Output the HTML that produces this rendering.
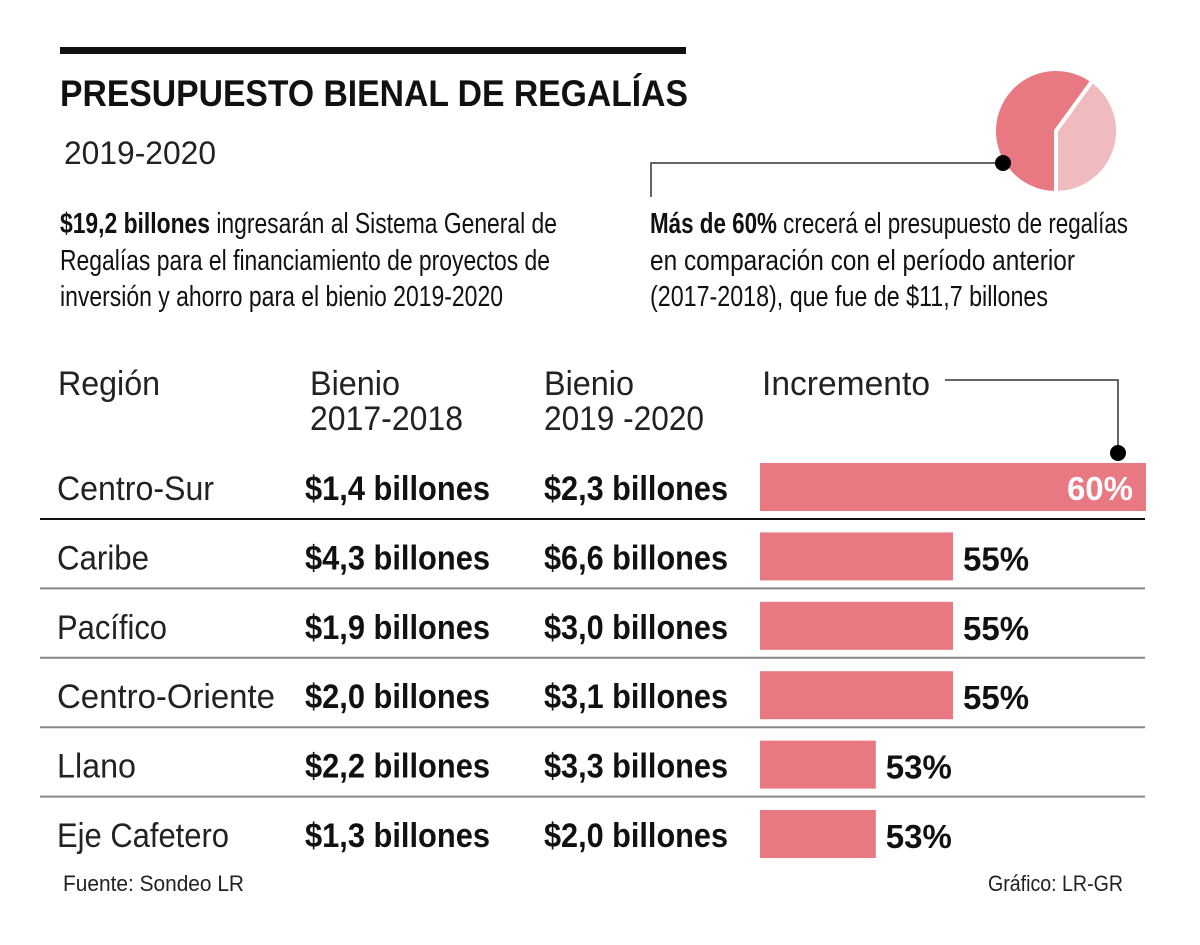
<!DOCTYPE html>
<html><head><meta charset="utf-8"><style>
html,body{margin:0;padding:0;background:#fff;}
svg{display:block;font-family:"Liberation Sans Narrow","Liberation Sans",sans-serif;}
</style></head><body>
<svg id="chart" width="1200" height="945" viewBox="0 0 1200 945">
<rect x="60" y="47" width="626" height="7" fill="#111"/>
<text x="60" y="106" font-size="37" font-weight="bold" fill="#111" textLength="628" lengthAdjust="spacingAndGlyphs">PRESUPUESTO BIENAL DE REGALÍAS</text>
<text x="64" y="164" font-size="32" fill="#222" textLength="152" lengthAdjust="spacingAndGlyphs">2019-2020</text>
<g font-size="29" fill="#111">
<text x="60" y="233" textLength="497" lengthAdjust="spacingAndGlyphs"><tspan font-weight="bold">$19,2 billones</tspan> ingresarán al Sistema General de</text>
<text x="60" y="270" textLength="490" lengthAdjust="spacingAndGlyphs">Regalías para el financiamiento de proyectos  de</text>
<text x="60" y="306" textLength="443" lengthAdjust="spacingAndGlyphs">inversión y ahorro para el bienio 2019-2020</text>
</g>
<g font-size="29" fill="#111">
<text x="650" y="233" textLength="478" lengthAdjust="spacingAndGlyphs"><tspan font-weight="bold">Más de 60%</tspan> crecerá el presupuesto de regalías</text>
<text x="650" y="270" textLength="425" lengthAdjust="spacingAndGlyphs">en comparación con el período anterior</text>
<text x="650" y="306" textLength="398" lengthAdjust="spacingAndGlyphs">(2017-2018), que fue de $11,7 billones</text>
</g>
<g id="pie"></g>
<polyline points="651,197 651,163 1003,163" fill="none" stroke="#333" stroke-width="1.5"/>
<circle cx="1003" cy="163" r="8" fill="#000"/>
<g font-size="34" fill="#222">
<text x="58" y="395" textLength="102" lengthAdjust="spacingAndGlyphs">Región</text>
<text x="310" y="395" textLength="90" lengthAdjust="spacingAndGlyphs">Bienio</text>
<text x="310" y="430" textLength="153" lengthAdjust="spacingAndGlyphs">2017-2018</text>
<text x="544" y="395" textLength="90" lengthAdjust="spacingAndGlyphs">Bienio</text>
<text x="544" y="430" textLength="160" lengthAdjust="spacingAndGlyphs">2019 -2020</text>
<text x="762" y="395" textLength="168" lengthAdjust="spacingAndGlyphs">Incremento</text>
</g>
<polyline points="945,380 1118,380 1118,453" fill="none" stroke="#333" stroke-width="1.5"/>
<circle cx="1118" cy="453" r="8" fill="#000"/>
<g id="rows"></g>
<text x="63" y="891" font-size="22" fill="#222" textLength="181" lengthAdjust="spacingAndGlyphs">Fuente: Sondeo LR</text>
<text x="988" y="891" font-size="22" fill="#222" textLength="135" lengthAdjust="spacingAndGlyphs">Gráfico: LR-GR</text>
</svg>
<script>
const regions = ["Centro-Sur","Caribe","Pacífico","Centro-Oriente","Llano","Eje Cafetero"];
const bienio1718 = [1.4,4.3,1.9,2.0,2.2,1.3];
const bienio1920 = [2.3,6.6,3.0,3.1,3.3,2.0];
const increments = [60,55,55,55,53,53];
const pieValues = [60,40];
const regionWidths = [157,92,110,218,79,172];

const NS="http://www.w3.org/2000/svg";
function mk(tag,attrs,parent){const e=document.createElementNS(NS,tag);for(const k in attrs)e.setAttribute(k,attrs[k]);parent.appendChild(e);return e;}
const x0=760, scaleK=38.6, base=50;
function xw(v){return scaleK*(v-base);}
function fmt(v){return "$"+v.toFixed(1).replace(".",",")+" billones";}
const rowsG=document.getElementById("rows");
const rowPitch=69.4;
regions.forEach((r,i)=>{
  const top=463+i*rowPitch;
  const base_y=top+37;
  const t1=mk("text",{x:57,y:base_y,"font-size":34,fill:"#222",textLength:regionWidths[i],lengthAdjust:"spacingAndGlyphs"},rowsG);
  t1.textContent=r;
  
  
  const t2=mk("text",{x:305,y:base_y,"font-size":34,fill:"#111","font-weight":"bold",textLength:185,lengthAdjust:"spacingAndGlyphs"},rowsG);
  t2.textContent=fmt(bienio1718[i]);
  
  
  const t3=mk("text",{x:544,y:base_y,"font-size":34,fill:"#111","font-weight":"bold",textLength:184,lengthAdjust:"spacingAndGlyphs"},rowsG);
  t3.textContent=fmt(bienio1920[i]);
  
  
  const w=xw(increments[i]);
  const b=mk("rect",{x:x0,y:top,width:w,height:48,fill:"#e87882"},rowsG);
  
  
  let lbl;
  if(i===0){
    lbl=mk("text",{x:x0+w-13,y:top+37,"font-size":33,"font-weight":"bold",fill:"#fff","text-anchor":"end"},rowsG);
  } else {
    lbl=mk("text",{x:x0+w+10,y:top+38,"font-size":33,"font-weight":"bold",fill:"#111"},rowsG);
  }
  lbl.textContent=increments[i]+"%";
  
  
  if(i<regions.length-1){
    const ly=top+56;
    const ln=mk("line",{x1:40,x2:1145,y1:ly,y2:ly,stroke:i===0?"#111":"#888","stroke-width":2},rowsG);
    
    
  }
});
const pieG=document.getElementById("pie");
const cx=1056, cy=131, R=62;
const total=pieValues.reduce((a,b)=>a+b,0);
const colors=["#e87882","#f0bbbf"];
let startAng=180;
pieValues.forEach((v,i)=>{
  const sweep=v/total*360;
  const a0=startAng, a1=startAng+sweep;
  const p=a=>[cx+R*Math.sin(a*Math.PI/180), cy-R*Math.cos(a*Math.PI/180)];
  const [x1,y1]=p(a0),[x2,y2]=p(a1);
  const d=`M${cx},${cy} L${x1},${y1} A${R},${R} 0 ${sweep>180?1:0} 1 ${x2},${y2} Z`;
  const s=mk("path",{d:d,fill:colors[i],stroke:"#fff","stroke-width":4,"stroke-linejoin":"miter"},pieG);
  
  
  startAng=a1;
});
</script>
</body></html>
